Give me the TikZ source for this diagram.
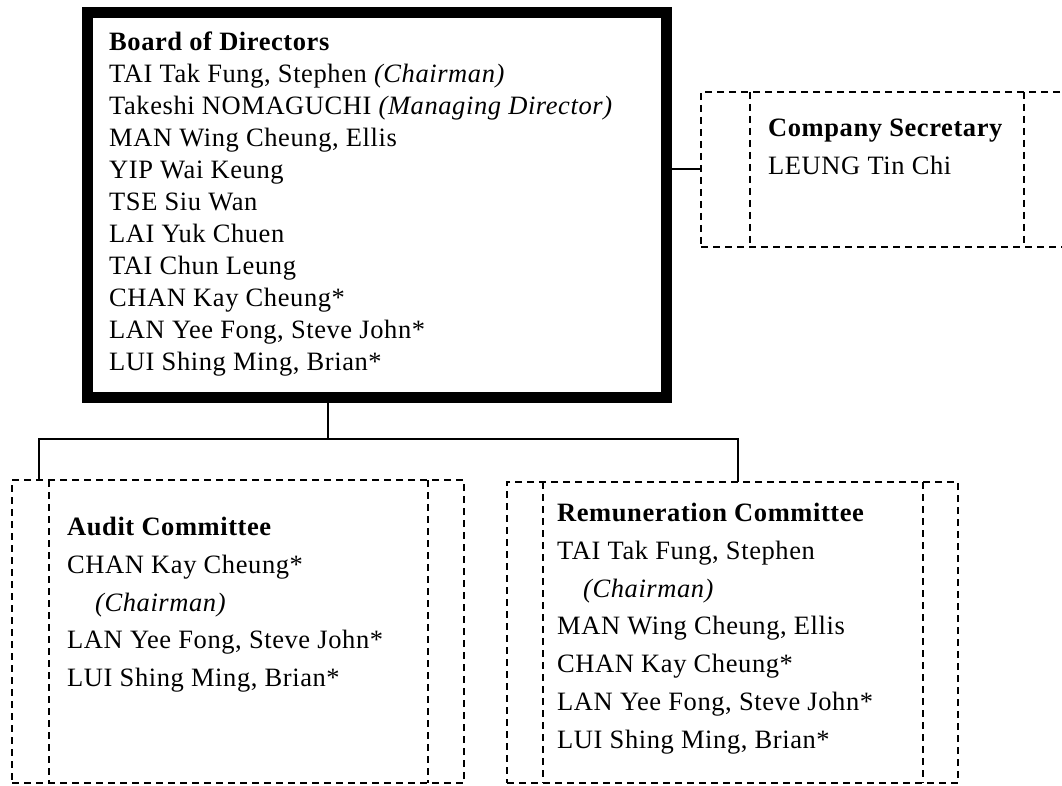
\documentclass[tikz,border=0pt]{standalone}
\usepackage{fontspec}
\setmainfont{Liberation Serif}[LetterSpace=2.2]
\usetikzlibrary{positioning}
\tikzstyle{board}=[%
  draw,
  line width=11pt,
  minimum width=579pt,
  minimum height=384pt,
  inner sep=0pt,
  outer sep=0pt
]
\tikzstyle{frame}=[draw, line width=2pt, dash pattern=on 7pt off 5pt, inner sep=0pt, outer sep=0pt]
\tikzstyle{dashes}=[line width=2pt, dash pattern=on 7pt off 5pt]
\tikzstyle{names}=[inner sep=0pt, align=left, font=\fontsize{26.5}{32}\selectfont]
\tikzstyle{entry}=[inner sep=0pt, align=left, font=\fontsize{26.5}{37.8}\selectfont]
\tikzstyle{link}=[line width=2pt]

\begin{document}
\begin{tikzpicture}[x=1pt, y=-1pt]
      \useasboundingbox (0,0) rectangle (1062,786);
      \node[board] (board) at (376.5,205) {};
      \node[frame, minimum width=372pt, minimum height=155pt] (sec) at (887,169.5) {};
      \node[frame, minimum width=452pt, minimum height=303pt] (audit) at (238,631.5) {};
      \node[frame, minimum width=451pt, minimum height=301pt] (rem) at (732.5,632.5) {};
      \foreach \x/\f in {750/sec, 1024/sec, 49/audit, 428/audit, 543/rem, 923/rem} {%
        \draw[dashes] (\x,0 |- \f.north) -- (\x,0 |- \f.south);
      }
      \node[names, below right=19pt and 22pt of board.north west] (boardtxt)
        {\textbf{Board of Directors}\\
        TAI Tak Fung, Stephen \textit{(Chairman)}\\
        Takeshi NOMAGUCHI \textit{(Managing Director)}\\
        MAN Wing Cheung, Ellis\\
        YIP Wai Keung\\
        TSE Siu Wan\\
        LAI Yuk Chuen\\
        TAI Chun Leung\\
        CHAN Kay Cheung*\\
        LAN Yee Fong, Steve John*\\
        LUI Shing Ming, Brian*};
      \node[entry, below right=27pt and 67pt of sec.north west] (sectxt)
        {\textbf{Company Secretary}\\LEUNG Tin Chi};
      \node[entry, below right=37pt and 55pt of audit.north west] (audittxt)
        {\textbf{Audit Committee}\\
        CHAN Kay Cheung*\\
        \hspace*{28pt}\textit{(Chairman)}\\
        LAN Yee Fong, Steve John*\\
        LUI Shing Ming, Brian*};
      \node[entry, below right=21pt and 50pt of rem.north west] (remtxt)
        {\textbf{Remuneration Committee}\\
        TAI Tak Fung, Stephen\\
        \hspace*{26pt}\textit{(Chairman)}\\
        MAN Wing Cheung, Ellis\\
        CHAN Kay Cheung*\\
        LAN Yee Fong, Steve John*\\
        LUI Shing Ming, Brian*};
      \coordinate (fork) at (328,439);
      \coordinate (auditjoin) at (39,439);
      \coordinate (remjoin) at (738,439);
      \draw[link] (board.east |- sec.west) -- (sec.west);
      \draw[link] (board.south -| fork) -- (fork);
      \draw[link] (audit.north -| auditjoin) -- (auditjoin) -- (remjoin) -- (remjoin |- rem.north);
    \end{tikzpicture}
\end{document}
